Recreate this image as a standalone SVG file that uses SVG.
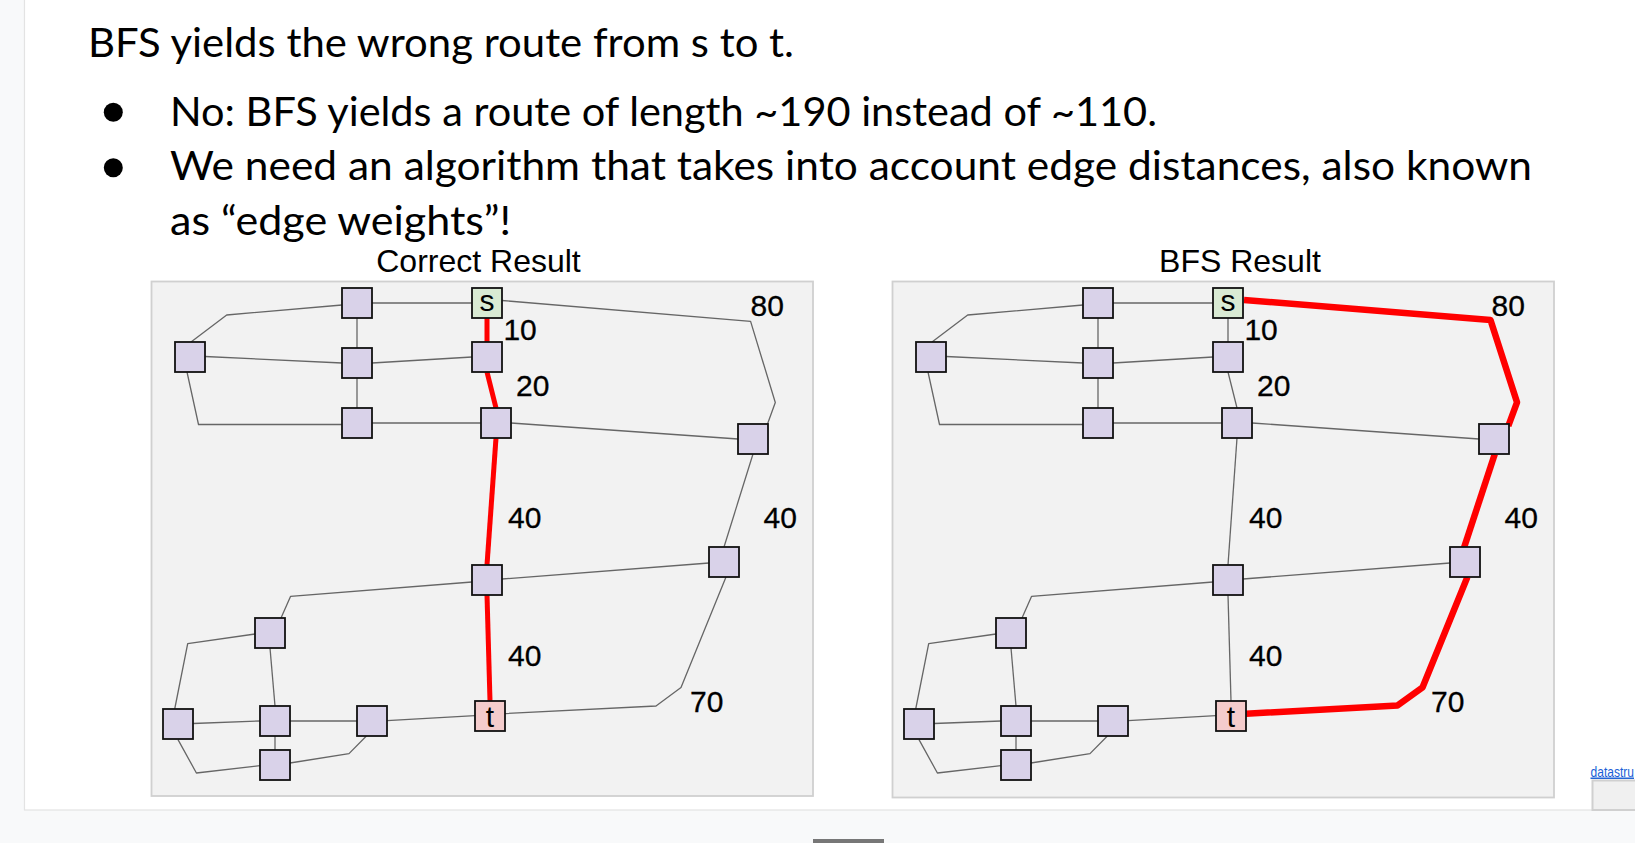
<svg xmlns="http://www.w3.org/2000/svg" width="1635" height="843" viewBox="0 0 1635 843">
<style>
.edge{fill:none;stroke:#666;stroke-width:1.3;stroke-linejoin:round}
.redL{fill:none;stroke:#ff0000;stroke-width:5;stroke-linejoin:round}
.redR{fill:none;stroke:#ff0000;stroke-width:6.5;stroke-linejoin:round}
.node{fill:#d9d2e9;stroke:#111;stroke-width:1.8}
.src{fill:#d9ead3}
.dst{fill:#f4cccc}
.nl{font-family:"Liberation Sans",Arial,sans-serif;font-size:30px;fill:#000;text-anchor:middle}
.lbl{font-family:"Liberation Sans",Arial,sans-serif;font-size:30px;fill:#000;stroke:#000;stroke-width:0.3}
.ptitle{font-family:"Liberation Sans",Arial,sans-serif;font-size:32px;fill:#000;text-anchor:middle}
.body{font-family:Lato,"Open Sans",sans-serif;font-size:41.5px;fill:#000}
.panel{fill:#f2f2f2;stroke:#d0d0d0;stroke-width:1.8}
</style>
<rect x="0" y="0" width="1635" height="843" fill="#f8f9fa"/>
<rect x="24.5" y="-5" width="1620" height="815" fill="#fff" stroke="#e3e3e3" stroke-width="1.2"/>
<rect x="813" y="839" width="71" height="4" fill="#777"/>

<g id="text">
<text class="body" x="88" y="57" textLength="706" lengthAdjust="spacingAndGlyphs">BFS yields the wrong route from s to t.</text>
<circle cx="113.3" cy="112.3" r="9.5" fill="#000"/>
<circle cx="113.3" cy="167.7" r="9.5" fill="#000"/>
<text class="body" x="170" y="126" textLength="987" lengthAdjust="spacingAndGlyphs">No: BFS yields a route of length ~190 instead of ~110.</text>
<text class="body" x="170" y="180" textLength="1362" lengthAdjust="spacingAndGlyphs">We need an algorithm that takes into account edge distances, also known</text>
<text class="body" x="170" y="235" textLength="341" lengthAdjust="spacingAndGlyphs">as “edge weights”!</text>
</g>

<text class="ptitle" x="478.5" y="272">Correct Result</text>
<text class="ptitle" x="1240" y="272">BFS Result</text>

<!-- LEFT PANEL -->
<g id="panel-correct">
<rect class="panel" x="151.5" y="281.5" width="661.5" height="514.5"/>
<g id="connectors-correct">
<polyline class="edge" points="342,305 226.7,315 191,342"/>
<polyline class="edge" points="372,303 472,303"/>
<polyline class="edge" points="502,300.5 750.6,321.4 775.3,402.5 767.5,424"/>
<polyline class="edge" points="357,318 357,348"/>
<polyline class="edge" points="357,378 357,408"/>
<polyline class="edge" points="205,356.5 342,363"/>
<polyline class="edge" points="372,363 472,357"/>
<polyline class="edge" points="187,372 198.5,424.5 342,424.5"/>
<polyline class="edge" points="372,423 481,423"/>
<polyline class="edge" points="511,423 738,439"/>
<polyline class="edge" points="753,454 724,547"/>
<polyline class="edge" points="502,579 709,563"/>
<polyline class="edge" points="472,582 290.5,596.4 281,618"/>
<polyline class="edge" points="726,577 681,687.5 656,706 505,713.6"/>
<polyline class="edge" points="255,634 187.7,643.6 174.7,709"/>
<polyline class="edge" points="270,648 275,706"/>
<polyline class="edge" points="193,723.5 260,721"/>
<polyline class="edge" points="290,721 357,721"/>
<polyline class="edge" points="387,720.7 475,715.7"/>
<polyline class="edge" points="275,736 275,750"/>
<polyline class="edge" points="178,739.6 196.4,773 260,765.7"/>
<polyline class="edge" points="290,763 349,753.6 366.4,736"/>
<polyline class="redL" points="487,318 487,342"/>
<polyline class="redL" points="487,372 496,408"/>
<polyline class="redL" points="496,438 487,565"/>
<polyline class="redL" points="487,595 490,701"/>
</g>
<g id="c-A"><rect class="node" x="342" y="288" width="30" height="30"/></g>
<g id="c-s"><rect class="node src" x="472" y="288" width="30" height="30"/><text class="nl" x="487" y="311">s</text></g>
<g id="c-B"><rect class="node" x="175" y="342" width="30" height="30"/></g>
<g id="c-C"><rect class="node" x="342" y="348" width="30" height="30"/></g>
<g id="c-D"><rect class="node" x="472" y="342" width="30" height="30"/></g>
<g id="c-E"><rect class="node" x="342" y="408" width="30" height="30"/></g>
<g id="c-F"><rect class="node" x="481" y="408" width="30" height="30"/></g>
<g id="c-G"><rect class="node" x="738" y="424" width="30" height="30"/></g>
<g id="c-H"><rect class="node" x="709" y="547" width="30" height="30"/></g>
<g id="c-I"><rect class="node" x="472" y="565" width="30" height="30"/></g>
<g id="c-J"><rect class="node" x="255" y="618" width="30" height="30"/></g>
<g id="c-K"><rect class="node" x="163" y="709" width="30" height="30"/></g>
<g id="c-L"><rect class="node" x="260" y="706" width="30" height="30"/></g>
<g id="c-M"><rect class="node" x="357" y="706" width="30" height="30"/></g>
<g id="c-t"><rect class="node dst" x="475" y="701" width="30" height="30"/><text class="nl" x="490" y="727">t</text></g>
<g id="c-N"><rect class="node" x="260" y="750" width="30" height="30"/></g>
<g id="labels-correct">
<text class="lbl" x="503.4" y="340">10</text>
<text class="lbl" x="516" y="396">20</text>
<text class="lbl" x="508" y="528">40</text>
<text class="lbl" x="763.5" y="528">40</text>
<text class="lbl" x="508" y="666">40</text>
<text class="lbl" x="690" y="712">70</text>
<text class="lbl" x="750.6" y="316">80</text>
</g>
</g>

<!-- RIGHT PANEL -->
<g id="panel-bfs" transform="translate(741,0)">
<rect class="panel" x="151.5" y="281.5" width="661.5" height="516"/>
<g id="connectors-bfs">
<polyline class="edge" points="342,305 226.7,315 191,342"/>
<polyline class="edge" points="372,303 472,303"/>
<polyline class="edge" points="357,318 357,348"/>
<polyline class="edge" points="357,378 357,408"/>
<polyline class="edge" points="205,356.5 342,363"/>
<polyline class="edge" points="372,363 472,357"/>
<polyline class="edge" points="187,372 198.5,424.5 342,424.5"/>
<polyline class="edge" points="372,423 481,423"/>
<polyline class="edge" points="511,423 738,439"/>
<polyline class="edge" points="502,579 709,563"/>
<polyline class="edge" points="472,582 290.5,596.4 281,618"/>
<polyline class="edge" points="255,634 187.7,643.6 174.7,709"/>
<polyline class="edge" points="270,648 275,706"/>
<polyline class="edge" points="193,723.5 260,721"/>
<polyline class="edge" points="290,721 357,721"/>
<polyline class="edge" points="387,720.7 475,715.7"/>
<polyline class="edge" points="275,736 275,750"/>
<polyline class="edge" points="178,739.6 196.4,773 260,765.7"/>
<polyline class="edge" points="290,763 349,753.6 366.4,736"/>
<polyline class="edge" points="487,318 487,342"/>
<polyline class="edge" points="487,372 496,408"/>
<polyline class="edge" points="496,438 487,565"/>
<polyline class="edge" points="487,595 490,701"/>
<polyline class="redR" points="503,300 749.5,320 776,402.3 767.3,426"/>
<polyline class="redR" points="753.8,454 723,547.7"/>
<polyline class="redR" points="726.4,577 681.6,687.3 656.6,705.4 505,713.8"/>
</g>
<g id="b-A"><rect class="node" x="342" y="288" width="30" height="30"/></g>
<g id="b-s"><rect class="node src" x="472" y="288" width="30" height="30"/><text class="nl" x="487" y="311">s</text></g>
<g id="b-B"><rect class="node" x="175" y="342" width="30" height="30"/></g>
<g id="b-C"><rect class="node" x="342" y="348" width="30" height="30"/></g>
<g id="b-D"><rect class="node" x="472" y="342" width="30" height="30"/></g>
<g id="b-E"><rect class="node" x="342" y="408" width="30" height="30"/></g>
<g id="b-F"><rect class="node" x="481" y="408" width="30" height="30"/></g>
<g id="b-G"><rect class="node" x="738" y="424" width="30" height="30"/></g>
<g id="b-H"><rect class="node" x="709" y="547" width="30" height="30"/></g>
<g id="b-I"><rect class="node" x="472" y="565" width="30" height="30"/></g>
<g id="b-J"><rect class="node" x="255" y="618" width="30" height="30"/></g>
<g id="b-K"><rect class="node" x="163" y="709" width="30" height="30"/></g>
<g id="b-L"><rect class="node" x="260" y="706" width="30" height="30"/></g>
<g id="b-M"><rect class="node" x="357" y="706" width="30" height="30"/></g>
<g id="b-t"><rect class="node dst" x="475" y="701" width="30" height="30"/><text class="nl" x="490" y="727">t</text></g>
<g id="b-N"><rect class="node" x="260" y="750" width="30" height="30"/></g>
<g id="labels-bfs">
<text class="lbl" x="503.4" y="340">10</text>
<text class="lbl" x="516" y="396">20</text>
<text class="lbl" x="508" y="528">40</text>
<text class="lbl" x="763.5" y="528">40</text>
<text class="lbl" x="508" y="666">40</text>
<text class="lbl" x="690" y="712">70</text>
<text class="lbl" x="750.6" y="316">80</text>
</g>
</g>

<g id="link">
<text x="1590.5" y="776.5" font-family="'Liberation Sans',Arial,sans-serif" font-size="14.5" fill="#1a5fd6" text-decoration="underline" textLength="43.5" lengthAdjust="spacingAndGlyphs">datastru</text>
<rect x="1592.5" y="780.5" width="50" height="29.5" fill="#f0f0f0" stroke="#d0d0d0" stroke-width="2"/>
</g>
</svg>
